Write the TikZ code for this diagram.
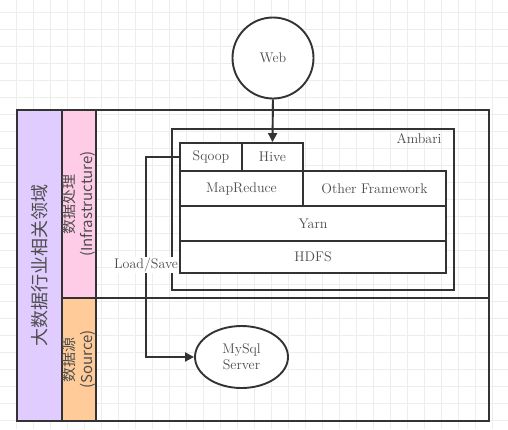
\documentclass[tikz,border=0pt]{standalone}
\usepackage{fontspec}
\newfontfamily\cjk{Noto Sans CJK SC}
\usetikzlibrary{shapes}
\usetikzlibrary{arrows.meta}
\usetikzlibrary{positioning}

\definecolor{linec}{HTML}{333333}
\definecolor{textc}{HTML}{4D4D4D}
\definecolor{domainc}{HTML}{E1CCFF}
\definecolor{infrac}{HTML}{FFCCE8}
\definecolor{sourcec}{HTML}{FFCC99}
\definecolor{gridc}{HTML}{EDEDED}

\tikzset{
  frame/.style={draw=linec, line width=2pt, rectangle, inner sep=0pt},
  block/.style={draw=linec, line width=1.9pt, rectangle, fill=white, inner sep=0pt,
    text=textc, font=\fontsize{14}{16}\selectfont},
  side/.style={frame, rotate=90, text=textc, align=center},
  conn/.style={draw=linec, line width=1.9pt, -{Triangle[length=9pt,width=9pt]}},
}

\begin{document}
\begin{tikzpicture}[x=1pt, y=-1pt]
  \useasboundingbox (0,0) rectangle (508,429);
  % grid paper
  \foreach \i in {0,...,29}
    \draw[gridc, line width=0.6pt] (16+17*\i,0) -- (16+17*\i,429);
  \foreach \i in {0,...,24}
    \draw[gridc, line width=0.6pt] (0,12.7+17*\i) -- (508,12.7+17*\i);

  % regions
  \node[frame, minimum width=393pt, minimum height=188pt] (infrabox) at (292.5,204) {};
  \node[frame, minimum width=393pt, minimum height=123pt] (srcbox) at (292.5,359.5) {};
  \node[side, fill=domainc, minimum width=311pt, minimum height=45pt,
    font=\cjk\fontsize{18}{20}\selectfont] (domain) at (39.5,265.5) {大数据行业相关领域};
  \node[side, fill=infrac, minimum width=188pt, minimum height=34pt,
    font=\cjk\fontsize{15}{18}\selectfont] (infra) at (79,204) {数据处理\\(Infrastructure)};
  \node[side, fill=sourcec, minimum width=123pt, minimum height=34pt,
    font=\cjk\fontsize{15}{18}\selectfont] (source) at (79,359.5) {数据源\\(Source)};

  % ambari stack
  \node[block, fill=none, minimum width=282pt, minimum height=161pt] (ambari) at (313,209.5) {};
  \node[text=textc, font=\fontsize{14}{16}\selectfont, anchor=east] (ambarilbl) at (445,139) {Ambari};
  \node[block, minimum width=62pt, minimum height=28pt] (sqoop) at (211,157) {Sqoop};
  \node[block, minimum width=61pt, minimum height=28pt] (hive) at (272.5,157) {Hive};
  \node[block, minimum width=123pt, minimum height=35pt] (mapreduce) at (241.5,188.5) {MapReduce};
  \node[block, minimum width=143pt, minimum height=35pt] (other) at (374.5,188.5) {Other Framework};
  \node[block, minimum width=266pt, minimum height=35pt] (yarn) at (313,223.5) {Yarn};
  \node[block, minimum width=266pt, minimum height=32pt] (hdfs) at (313,257) {HDFS};

  % outside
  \node[block, circle, minimum size=81pt] (web) at (273,58) {Web};
  \node[block, ellipse, minimum width=93pt, minimum height=62pt, align=center] (mysql) at (241.5,357) {MySql\\Server};

  \draw[conn] (web.south) -- (hive.north);
  \draw[conn] (sqoop.west) -- ++(-33,0) |- node[pos=0.27, fill=white, inner sep=1pt,
    text=textc, font=\fontsize{14}{16}\selectfont] (loadsave) {Load/Save} (mysql.west);
\end{tikzpicture}
\end{document}
